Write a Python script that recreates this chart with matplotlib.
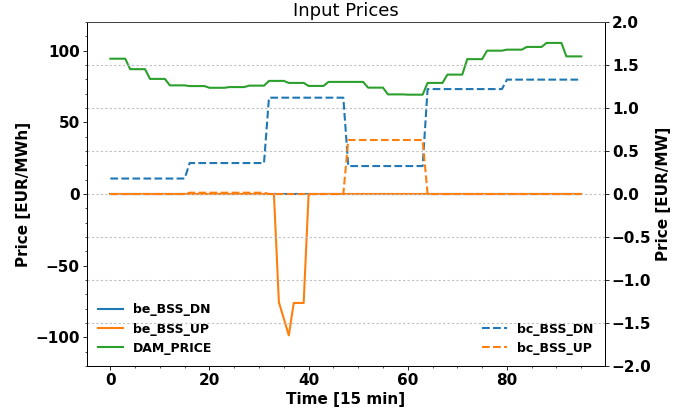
import numpy as np
import matplotlib
matplotlib.use("Agg")
import matplotlib.pyplot as plt

# hourly day-ahead price (each value held for 4 quarter-hours)
dam_hourly = [94.4, 87.1, 80.3, 75.8, 75.3, 74.1, 74.6, 75.6,
              78.9, 77.5, 75.4, 78.2, 78.2, 74.2, 69.5, 69.3,
              77.5, 83.3, 94.1, 100.0, 100.7, 102.6, 105.4, 96.0]
# capacity prices per 4-hour block
bc_dn_block = [0.18, 0.36, 1.12, 0.325, 1.22, 1.33]
bc_up_block = [0.0, 0.015, 0.0, 0.628, 0.0, 0.0]
# energy prices (quarter-hourly), only a few non-zero
be_up_idx = [34, 35, 36, 37, 38, 39]
be_up_val = [-75.5, -87.0, -98.6, -76.0, -76.0, -76.0]

t = np.arange(96)
DAM_PRICE = np.repeat(dam_hourly, 4)
bc_BSS_DN = np.repeat(bc_dn_block, 16)
bc_BSS_UP = np.repeat(bc_up_block, 16)
be_BSS_DN = np.zeros(96)
be_BSS_UP = np.zeros(96)
be_BSS_UP[be_up_idx] = be_up_val

plt.rcParams['font.weight'] = 'bold'
plt.rcParams['axes.labelweight'] = 'bold'
plt.rcParams['font.size'] = 11
# ticks / pads a bit tighter than default
for a in ('xtick', 'ytick'):
    plt.rcParams[a + '.major.size'] = 2.6
    plt.rcParams[a + '.major.pad'] = 2.5
    plt.rcParams[a + '.minor.size'] = 1.5
    plt.rcParams[a + '.major.width'] = 0.6
    plt.rcParams[a + '.minor.width'] = 0.5
plt.rcParams['axes.labelpad'] = 2.9
plt.rcParams['axes.titlepad'] = 4.3
plt.rcParams['axes.linewidth'] = 0.7

fig, ax = plt.subplots(figsize=(7, 4.15), dpi=100)
fig.subplots_adjust(left=0.124, right=0.864, top=0.947, bottom=0.118)
ax2 = ax.twinx()

ax.plot(t, be_BSS_DN, color='C0', label='be_BSS_DN')
ax.plot(t, be_BSS_UP, color='C1', label='be_BSS_UP')
ax.plot(t, DAM_PRICE, color='C2', label='DAM_PRICE')
ax2.plot(t, bc_BSS_DN, color='C0', ls='--', label='bc_BSS_DN')
ax2.plot(t, bc_BSS_UP, color='C1', ls='--', label='bc_BSS_UP')

ax.set_ylim(-120, 120)
ax2.set_ylim(-2, 2)
ax.minorticks_on()
ax2.yaxis.grid(True, color='#c0c0c0', ls=(0, (2, 2)), lw=0.8)
ax2.spines['top'].set_color('#444444')

ax.set_title('Input Prices', fontweight='normal', fontsize=13)
ax.set_xlabel('Time [15 min]')
ax.set_ylabel('Price [EUR/MWh]')
ax2.set_ylabel('Price [EUR/MW]')

ax.legend(loc='lower left', frameon=False, fontsize=9)
ax2.legend(loc='lower right', frameon=False, fontsize=9)

plt.savefig('out.png', dpi=100)
